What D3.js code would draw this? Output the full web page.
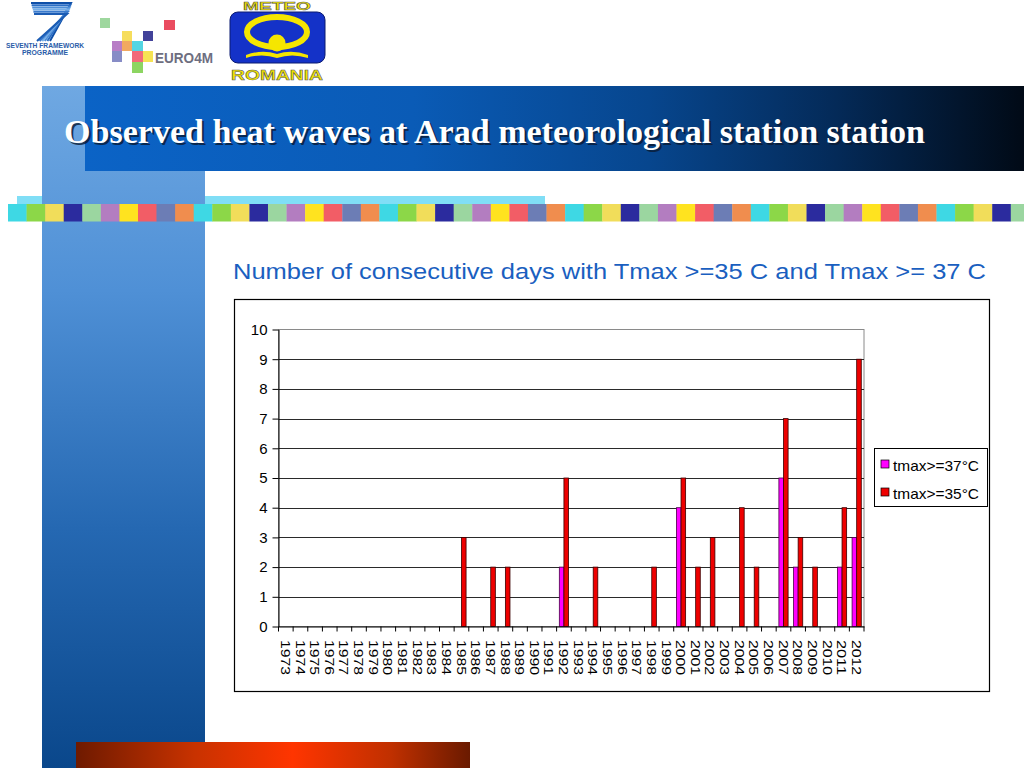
<!DOCTYPE html>
<html><head><meta charset="utf-8">
<script src="https://cdn.jsdelivr.net/npm/d3@7"></script>
<style>html,body{margin:0;padding:0;background:#fff;overflow:hidden}</style>
</head><body><svg id="c" width="1024" height="768" xmlns="http://www.w3.org/2000/svg"></svg>
<script>
// ---------------- DATA ----------------
const years = ["1973","1974","1975","1976","1977","1978","1979","1980","1981","1982",
               "1983","1984","1985","1986","1987","1988","1989","1990","1991","1992",
               "1993","1994","1995","1996","1997","1998","1999","2000","2001","2002",
               "2003","2004","2005","2006","2007","2008","2009","2010","2011","2012"];
const tmax37 = [0,0,0,0,0,0,0,0,0,0,
                0,0,0,0,0,0,0,0,0,2,
                0,0,0,0,0,0,0,4,0,0,
                0,0,0,0,5,2,0,0,2,3];
const tmax35 = [0,0,0,0,0,0,0,0,0,0,
                0,0,3,0,2,2,0,0,0,5,
                0,2,0,0,0,2,0,5,2,3,
                0,4,2,0,7,3,2,0,4,9];
const seriesNames = ["tmax>=37°C","tmax>=35°C"];
const seriesColors = ["#FF00FF","#EE0000"];
const seriesStrokes = ["#4a004a","#3a0000"];
const yTicks = [0,1,2,3,4,5,6,7,8,9,10];
const titleText = "Observed heat waves at Arad meteorological station station";
const subtitleText = "Number of consecutive days with Tmax >=35 C and Tmax >= 37 C";
const stripColors = ["#3ED8E4","#8CD748","#F1DD5A","#2B2B9E","#9BD6A0","#B37DC0","#FFE31F","#F25D66","#6C7DB5","#F08D4E"];

// ---------------- SLIDE ----------------
const svg = d3.select("#c");
const defs = svg.append("defs");
function lin(id, horiz, stops){
  const g = defs.append("linearGradient").attr("id", id)
    .attr("x1",0).attr("y1",0).attr("x2",horiz?1:0).attr("y2",horiz?0:1);
  stops.forEach(s=>g.append("stop").attr("offset",s[0]).attr("stop-color",s[1]));
}
lin("hdr", true, [[0,"#0B63C6"],[0.35,"#0A5BB6"],[0.6,"#07468E"],[0.8,"#042A58"],[1,"#010A16"]]);
lin("lft", false, [[0,"#6FA8E2"],[0.3,"#4F90D6"],[0.65,"#2568B2"],[1,"#0A478B"]]);
lin("bot", true, [[0,"#6E1A00"],[0.3,"#C83200"],[0.55,"#FF3500"],[0.8,"#C03000"],[1,"#6A1A00"]]);

// cyan strip
svg.append("rect").attr("x",17).attr("y",196).attr("width",528).attr("height",9).attr("fill","#80DEF6");
// left blue column
svg.append("rect").attr("x",42).attr("y",86).attr("width",163).attr("height",682).attr("fill","url(#lft)");
// header band
svg.append("rect").attr("x",85).attr("y",86).attr("width",939).attr("height",85).attr("fill","url(#hdr)");
// colour squares strip
const sq = 18.57;
const nSq = Math.ceil((1024-8)/sq);
svg.append("g").selectAll("rect").data(d3.range(nSq)).join("rect")
  .attr("x", i=>8+i*sq).attr("y",204).attr("width",sq+0.3).attr("height",17.5)
  .attr("fill", i=>stripColors[i%stripColors.length]);
// bottom red bar
svg.append("rect").attr("x",76).attr("y",742).attr("width",394).attr("height",26).attr("fill","url(#bot)");

// title with shadow
svg.append("text").attr("x",66).attr("y",145).text(titleText)
  .attr("font-family","Liberation Serif, Times New Roman, serif").attr("font-weight","bold")
  .attr("font-size",33).attr("fill","#0a1a33").attr("opacity",0.8)
  .attr("textLength",861).attr("lengthAdjust","spacingAndGlyphs");
svg.append("text").attr("x",64).attr("y",143).text(titleText)
  .attr("font-family","Liberation Serif, Times New Roman, serif").attr("font-weight","bold")
  .attr("font-size",33).attr("fill","#ffffff")
  .attr("textLength",861).attr("lengthAdjust","spacingAndGlyphs");

// ---------------- LOGOS ----------------
const logo = svg.append("g");
// FP7
const blues = ["#0E4FA8","#2C6EC4","#4F8FD8","#76AEE8","#3A7ACC","#1B5CB4"];
for(let k=0;k<6;k++){
  logo.append("path")
    .attr("d",`M${31+k*0.6},${3+k*2.2} H${71-k*0.8} L${50-k*2.6},${41}`)
    .attr("fill","none").attr("stroke",blues[k]).attr("stroke-width",2);
}
logo.append("text").attr("x",45).attr("y",48).attr("text-anchor","middle").text("SEVENTH FRAMEWORK")
  .attr("font-family","Liberation Sans, Arial, sans-serif").attr("font-weight","bold").attr("font-size",7)
  .attr("fill","#2A5CA8").attr("textLength",78).attr("lengthAdjust","spacingAndGlyphs");
logo.append("text").attr("x",45).attr("y",55).attr("text-anchor","middle").text("PROGRAMME")
  .attr("font-family","Liberation Sans, Arial, sans-serif").attr("font-weight","bold").attr("font-size",7)
  .attr("fill","#2A5CA8").attr("textLength",46).attr("lengthAdjust","spacingAndGlyphs");
// EURO4M
const eu = [[100,18,10,10,"#93D393"],[164,20,11,10,"#E8384F"],[122,31,10,10,"#F5D94A"],[143,31,10,10,"#2E2E8F"],
            [112,41,10,10,"#B06FC0"],[122,41,10,10,"#F0A050"],[132,41,11,10,"#40D0E0"],
            [112,51,10,11,"#7A80C0"],[132,51,11,11,"#F05A6A"],[143,51,10,11,"#F5E040"],[132,62,11,11,"#80D050"]];
eu.forEach(e=>logo.append("rect").attr("x",e[0]).attr("y",e[1]).attr("width",e[2]).attr("height",e[3]).attr("fill",e[4]).attr("opacity",0.9));
logo.append("text").attr("x",155).attr("y",63).text("EURO4M")
  .attr("font-family","Liberation Sans, Arial, sans-serif").attr("font-weight","bold").attr("font-size",14)
  .attr("fill","#6E6E80").attr("textLength",58).attr("lengthAdjust","spacingAndGlyphs");
// METEO ROMANIA
logo.append("text").attr("x",277).attr("y",10).attr("text-anchor","middle").text("METEO")
  .attr("font-family","Liberation Sans, Arial, sans-serif").attr("font-weight","bold").attr("font-size",11.5)
  .attr("fill","#F2E400").attr("stroke","#555").attr("stroke-width",0.5)
  .attr("textLength",68).attr("lengthAdjust","spacingAndGlyphs");
logo.append("rect").attr("x",230).attr("y",12).attr("width",95).attr("height",51).attr("rx",8)
  .attr("fill","#1432C8").attr("stroke","#0a1a70").attr("stroke-width",1);
logo.append("ellipse").attr("cx",277).attr("cy",32).attr("rx",30).attr("ry",15)
  .attr("fill","none").attr("stroke","#F5E600").attr("stroke-width",6);
logo.append("circle").attr("cx",277).attr("cy",43).attr("r",8.5).attr("fill","#F5E600");
logo.append("path").attr("d","M246,55 Q262,49 277,54 Q292,49 308,55 L308,58 Q292,53 277,58 Q262,53 246,58 Z")
  .attr("fill","#F5E600");
logo.append("text").attr("x",277).attr("y",80).attr("text-anchor","middle").text("ROMANIA")
  .attr("font-family","Liberation Sans, Arial, sans-serif").attr("font-weight","bold").attr("font-size",14)
  .attr("fill","#F2E400").attr("stroke","#555").attr("stroke-width",0.5)
  .attr("textLength",92).attr("lengthAdjust","spacingAndGlyphs");

// ---------------- CHART ----------------
svg.append("text").attr("x",233).attr("y",279).text(subtitleText)
  .attr("font-family","Liberation Sans, Arial, sans-serif").attr("font-size",22.5)
  .attr("fill","#1A5FC0").attr("textLength",753).attr("lengthAdjust","spacingAndGlyphs");

svg.append("rect").attr("x",234.5).attr("y",299.5).attr("width",755).attr("height",392)
  .attr("fill","#fff").attr("stroke","#000").attr("stroke-width",1.2);

const x = d3.scaleBand().domain(years).range([278.5, 864]).padding(0);
const xs = d3.scaleBand().domain(seriesNames).range([0, x.bandwidth()]).paddingInner(0).paddingOuter(0.59);
const y = d3.scaleLinear().domain([0,10]).range([626.5, 329.5]);

const g = svg.append("g");
// plot area border
g.append("rect").attr("x",x.range()[0]).attr("y",y(10)).attr("width",x.range()[1]-x.range()[0])
  .attr("height",y(0)-y(10)).attr("fill","none").attr("stroke","#8a8a8a").attr("stroke-width",1);
// gridlines
g.append("g").selectAll("line").data(yTicks.filter(t=>t>0 && t<10)).join("line")
  .attr("x1",x.range()[0]).attr("x2",x.range()[1]).attr("y1",d=>Math.round(y(d))+0.5).attr("y2",d=>Math.round(y(d))+0.5)
  .attr("stroke","#2a2a2a").attr("stroke-width",1);

// bars
const series = [tmax37, tmax35];
series.forEach((vals, si)=>{
  const data = years.map((yr,i)=>({yr, v: vals[i]})).filter(d=>d.v>0);
  g.append("g").selectAll("rect").data(data).join("rect")
    .attr("x", d=>x(d.yr)+xs(seriesNames[si]))
    .attr("y", d=>y(d.v))
    .attr("width", xs.bandwidth())
    .attr("height", d=>y(0)-y(d.v))
    .attr("fill", seriesColors[si]).attr("stroke", seriesStrokes[si]).attr("stroke-width",0.8);
});

// y axis
const yAxis = g.append("g").attr("transform",`translate(${x.range()[0]},0)`)
  .call(d3.axisLeft(y).tickValues(yTicks).tickFormat(d3.format("d")).tickSize(6).tickSizeOuter(0).tickPadding(5));
yAxis.selectAll("path,line").attr("stroke","#000");
yAxis.selectAll("text").attr("font-family","Liberation Sans, Arial, sans-serif").attr("font-size",15).attr("fill","#000");

// x axis
const xAxis = g.append("g").attr("transform",`translate(0,${y(0)})`)
  .call(d3.axisBottom(x).tickSize(0).tickSizeOuter(0));
xAxis.select("path").attr("stroke","#000");
xAxis.selectAll("text")
  .attr("font-family","Liberation Sans, Arial, sans-serif").attr("font-size",13.5).attr("fill","#000")
  .attr("x",13.5).attr("y",0).attr("dy","0.36em").attr("text-anchor","start")
  .attr("transform","rotate(90)")
  .attr("textLength",35).attr("lengthAdjust","spacingAndGlyphs");
const bounds = years.map(yr=>x(yr)).concat([x.range()[1]]);
xAxis.append("g").selectAll("line").data(bounds).join("line")
  .attr("x1",d=>d).attr("x2",d=>d).attr("y1",0).attr("y2",5).attr("stroke","#000");

// legend
const lg = svg.append("g");
lg.append("rect").attr("x",874.5).attr("y",448.5).attr("width",113).attr("height",58)
  .attr("fill","#fff").attr("stroke","#000").attr("stroke-width",1);
seriesNames.forEach((nm,i)=>{
  lg.append("rect").attr("x",881).attr("y",460+i*28).attr("width",8).attr("height",8)
    .attr("fill",seriesColors[i]).attr("stroke","#000").attr("stroke-width",0.7);
  lg.append("text").attr("x",893).attr("y",471+i*28).text(nm)
    .attr("font-family","Liberation Sans, Arial, sans-serif").attr("font-size",14.5).attr("fill","#000")
    .attr("textLength",86).attr("lengthAdjust","spacingAndGlyphs");
});
</script>
</body></html>
